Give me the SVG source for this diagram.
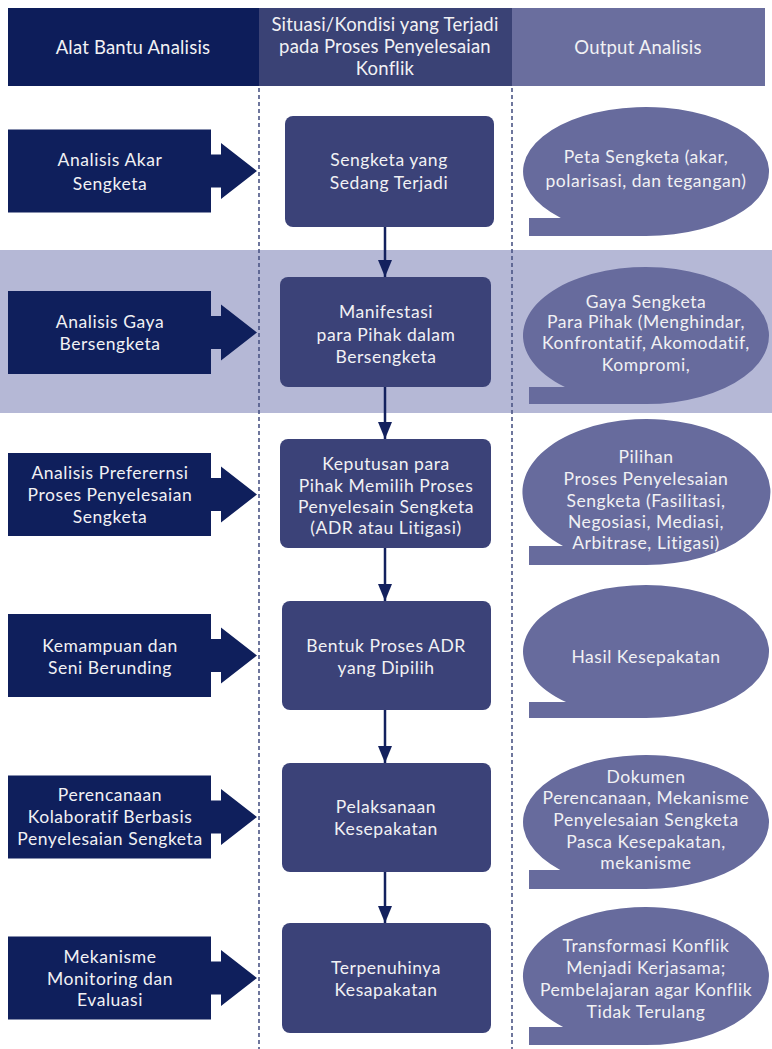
<svg xmlns="http://www.w3.org/2000/svg" width="772" height="1049" viewBox="0 0 772 1049">
<defs>
<style>
.t{font-family:Lato,"Open Sans","Liberation Sans",sans-serif;font-size:17.5px;fill:#f1f1f4;text-anchor:middle;letter-spacing:0.55px}
.h{font-family:Lato,"Open Sans","Liberation Sans",sans-serif;font-size:18.5px;fill:#f1f1f4;text-anchor:middle;letter-spacing:0.2px}
.lb{fill:#0f1f5c}
.mb{fill:#3b4278}
.bb{fill:#676b9d}
.dash{stroke:#4b5585;stroke-width:1.6;stroke-dasharray:4 3;fill:none}
.con{stroke:#13215e;stroke-width:2.5;fill:none;marker-end:url(#ah)}
</style>
<marker id="ah" viewBox="0 0 17 14" refX="17" refY="7" markerWidth="17" markerHeight="14" markerUnits="userSpaceOnUse" orient="auto">
<path d="M0,0 L17,7 L0,14 Z" fill="#13215e"/>
</marker>
<path id="arr" d="M0,-41.5 H203 V-16.5 H213 V-28 L249,0 L213,28 V16.5 H203 V41.5 H0 Z"/>
</defs>

<rect x="0" y="250" width="772" height="163" fill="#b5b8d6"/>

<g id="header">
<rect x="8" y="8" width="251" height="78" fill="#0d1d5a"/>
<rect x="259" y="8" width="253" height="78" fill="#3a4275"/>
<rect x="512" y="8" width="253" height="78" fill="#6a6e9e"/>
<text class="h" x="133" y="54">Alat Bantu Analisis</text>
<text class="h" x="385" y="31">Situasi/Kondisi yang Terjadi</text>
<text class="h" x="385" y="53">pada Proses Penyelesaian</text>
<text class="h" x="385" y="75">Konflik</text>
<text class="h" x="638" y="54">Output Analisis</text>
</g>

<g id="dividers">
<line class="dash" x1="259" y1="88" x2="259" y2="1049"/>
<line class="dash" x1="512" y1="88" x2="512" y2="1049"/>
</g>

<g id="connectors">
<line class="con" x1="385" y1="227" x2="385" y2="277"/>
<line class="con" x1="385" y1="387" x2="385" y2="439"/>
<line class="con" x1="385" y1="548" x2="385" y2="601"/>
<line class="con" x1="385" y1="710" x2="385" y2="763"/>
<line class="con" x1="385" y1="872" x2="385" y2="923"/>
</g>

<g id="tool1"><use href="#arr" class="lb" transform="translate(8,171)"/>
<text class="t" x="110" y="166">Analisis Akar</text><text class="t" x="110" y="190">Sengketa</text></g>
<g id="tool2"><use href="#arr" class="lb" transform="translate(8,332.5)"/>
<text class="t" x="110" y="328">Analisis Gaya</text><text class="t" x="110" y="350">Bersengketa</text></g>
<g id="tool3"><use href="#arr" class="lb" transform="translate(8,494.5)"/>
<text class="t" x="110" y="479">Analisis Preferernsi</text><text class="t" x="110" y="501">Proses Penyelesaian</text><text class="t" x="110" y="523">Sengketa</text></g>
<g id="tool4"><use href="#arr" class="lb" transform="translate(8,655.5)"/>
<text class="t" x="110" y="652">Kemampuan dan</text><text class="t" x="110" y="674">Seni Berunding</text></g>
<g id="tool5"><use href="#arr" class="lb" transform="translate(8,817)"/>
<text class="t" x="110" y="801">Perencanaan</text><text class="t" x="110" y="823">Kolaboratif Berbasis</text><text class="t" x="110" y="845">Penyelesaian Sengketa</text></g>
<g id="tool6"><use href="#arr" class="lb" transform="translate(8,978)"/>
<text class="t" x="110" y="963">Mekanisme</text><text class="t" x="110" y="985">Monitoring dan</text><text class="t" x="110" y="1006">Evaluasi</text></g>

<g id="sit1"><rect class="mb" x="285" y="116" width="209" height="111" rx="8"/>
<text class="t" x="389" y="166">Sengketa yang</text><text class="t" x="389" y="189">Sedang Terjadi</text></g>
<g id="sit2"><rect class="mb" x="280" y="277" width="211" height="110" rx="8"/>
<text class="t" x="386" y="318">Manifestasi</text><text class="t" x="386" y="341">para Pihak dalam</text><text class="t" x="386" y="363">Bersengketa</text></g>
<g id="sit3"><rect class="mb" x="280" y="439" width="211" height="109" rx="8"/>
<text class="t" x="386" y="470">Keputusan para</text><text class="t" x="386" y="492">Pihak Memilih Proses</text><text class="t" x="386" y="513">Penyelesain Sengketa</text><text class="t" x="386" y="534">(ADR atau Litigasi)</text></g>
<g id="sit4"><rect class="mb" x="282" y="601" width="209" height="109" rx="8"/>
<text class="t" x="386" y="652">Bentuk Proses ADR</text><text class="t" x="386" y="674">yang Dipilih</text></g>
<g id="sit5"><rect class="mb" x="282" y="763" width="209" height="109" rx="8"/>
<text class="t" x="386" y="813">Pelaksanaan</text><text class="t" x="386" y="835">Kesepakatan</text></g>
<g id="sit6"><rect class="mb" x="282" y="923" width="209" height="110" rx="8"/>
<text class="t" x="386" y="974">Terpenuhinya</text><text class="t" x="386" y="996">Kesapakatan</text></g>

<g id="out1"><path class="bb" d="M560.8,218 A123,64.5 0 1 1 646,236 L529,236 L529,218 Z"/>
<text class="t" x="646" y="163">Peta Sengketa (akar,</text><text class="t" x="646" y="187">polarisasi, dan tegangan)</text></g>
<g id="out2"><path class="bb" d="M564.9,387 A123,68.5 0 1 1 646,404 L529,404 L529,387 Z"/>
<text class="t" x="646" y="308">Gaya Sengketa</text><text class="t" x="646" y="328">Para Pihak (Menghindar,</text><text class="t" x="646" y="349">Konfrontatif, Akomodatif,</text><text class="t" x="646" y="371">Kompromi,</text></g>
<g id="out3"><path class="bb" d="M563,546 A124,73 0 1 1 646,565 L529,565 L529,546 Z"/>
<text class="t" x="646" y="463">Pilihan</text><text class="t" x="646" y="485">Proses Penyelesaian</text><text class="t" x="646" y="507">Sengketa (Fasilitasi,</text><text class="t" x="646" y="528">Negosiasi, Mediasi,</text><text class="t" x="646" y="549">Arbitrase, Litigasi)</text></g>
<g id="out4"><path class="bb" d="M566,702 A123,66.5 0 1 1 646,718 L529,718 L529,702 Z"/>
<text class="t" x="646" y="663">Hasil Kesepakatan</text></g>
<g id="out5"><path class="bb" d="M560.2,870 A123,67 0 1 1 646,889 L529,889 L529,870 Z"/>
<text class="t" x="646" y="783">Dokumen</text><text class="t" x="646" y="804">Perencanaan, Mekanisme</text><text class="t" x="646" y="826">Penyelesaian Sengketa</text><text class="t" x="646" y="848">Pasca Kesepakatan,</text><text class="t" x="646" y="869">mekanisme</text></g>
<g id="out6"><path class="bb" d="M563.1,1027 A123,69 0 1 1 646,1045 L529,1045 L529,1027 Z"/>
<text class="t" x="646" y="952">Transformasi Konflik</text><text class="t" x="646" y="974">Menjadi Kerjasama;</text><text class="t" x="646" y="996">Pembelajaran agar Konflik</text><text class="t" x="646" y="1018">Tidak Terulang</text></g>
</svg>
